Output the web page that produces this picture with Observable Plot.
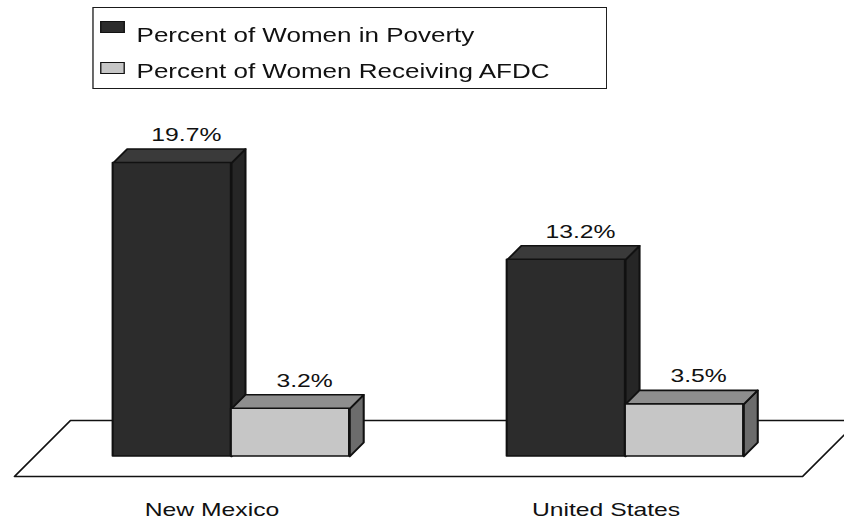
<!DOCTYPE html>
<html>
<head>
<meta charset="utf-8">
<script src="https://cdn.jsdelivr.net/npm/d3@7"></script>
<script src="https://cdn.jsdelivr.net/npm/@observablehq/plot@0.6"></script>
<style>
  html, body { margin: 0; padding: 0; background: #fff; overflow: hidden; }
  /* the whole figure is drawn narrow and widened horizontally */
  #figure { position: relative; width: 649px; transform: scaleX(1.3005); transform-origin: 0 0; }
  #legend { position: relative; height: 100px; font-family: "Liberation Sans", Arial, Helvetica, sans-serif; }
  #legend .box { position: absolute; left: 71px; top: 7px; width: 396px; height: 82px;
                 box-sizing: border-box; border: 1.5px solid #1a1a1a; }
  #legend .swatch { position: absolute; left: 77px; width: 19px; height: 12px;
                    box-sizing: border-box; border: 1.5px solid #111; }
  #legend .label { position: absolute; left: 105px; font-size: 20px; line-height: 20px; color: #111; white-space: nowrap; }
</style>
</head>
<body>
<div id="figure">
  <div id="legend"></div>
  <div id="chart"></div>
</div>
<script>
// Data
const groups = ["New Mexico", "United States"];
const seriesNames = ["Percent of Women in Poverty", "Percent of Women Receiving AFDC"];
const poverty = [19.7, 13.2];
const afdc = [3.2, 3.5];

// Layout
const W = 649, H = 419;
const margin = {top: 58, right: 17, bottom: 63, left: 26};
const xDomain = [-0.5, 1.5];
const yDomain = [0, 20];
const BAR = 0.3;            // bar width in group units
const STRETCH = 1.3005;     // horizontal widening of the figure
const DEPTH = 14;           // bar depth (oblique, on screen px)
const FLOOR_FRONT = -20, FLOOR_BACK = 36;

// Face colours: front, top, side
const palette = [
  {front: "#2c2c2c", top: "#3a3a3a", side: "#262626"},
  {front: "#c6c6c6", top: "#8e8e8e", side: "#6c6c6c"}
];

const pxPerX = (W - margin.left - margin.right) / (xDomain[1] - xDomain[0]);
const pxPerY = (H - margin.top - margin.bottom) / (yDomain[1] - yDomain[0]);
// oblique offset for a given depth, in data units
const offset = d => [d / STRETCH / pxPerX, d / pxPerY];
const [ddx, ddy] = offset(DEPTH);

const bars = groups.flatMap((g, i) => [
  {group: g, s: 0, x1: i - BAR, x2: i, value: poverty[i]},
  {group: g, s: 1, x1: i, x2: i + BAR, value: afdc[i]}
]);

const topFace = b => [[b.x1, b.value], [b.x2, b.value], [b.x2 + ddx, b.value + ddy], [b.x1 + ddx, b.value + ddy], [b.x1, b.value]];
const sideFace = b => [[b.x2, 0], [b.x2 + ddx, ddy], [b.x2 + ddx, b.value + ddy], [b.x2, b.value], [b.x2, 0]];
const poly = (list, face) => list.flatMap((b, k) => face(b).map(([x, y]) => ({x, y, id: k})));

// Floor plane (y = 0) spanning the x domain, from front to back depth
const [fx0, fy0] = offset(FLOOR_FRONT);
const [fx1, fy1] = offset(FLOOR_BACK);
const floor = [
  {x: xDomain[0] + fx0, y: fy0}, {x: xDomain[1] + fx0, y: fy0},
  {x: xDomain[1] + fx1, y: fy1}, {x: xDomain[0] + fx1, y: fy1},
  {x: xDomain[0] + fx0, y: fy0}
];

const stroke = {stroke: "#111", strokeWidth: 1.6, strokeLinejoin: "round"};
const barMarks = [0, 1].flatMap(s => {
  const list = bars.filter(b => b.s === s);
  return [
    Plot.line(poly(list, sideFace), {x: "x", y: "y", z: "id", fill: palette[s].side, ...stroke}),
    Plot.line(poly(list, topFace), {x: "x", y: "y", z: "id", fill: palette[s].top, ...stroke}),
    Plot.rect(list, {x1: "x1", x2: "x2", y1: 0, y2: "value", fill: palette[s].front, ...stroke})
  ];
});

const chart = Plot.plot({
  width: W,
  height: H,
  marginTop: margin.top,
  marginRight: margin.right,
  marginBottom: margin.bottom,
  marginLeft: margin.left,
  x: {domain: xDomain, axis: null},
  y: {domain: yDomain, axis: null},
  style: {fontFamily: "'Liberation Sans', Arial, Helvetica, sans-serif", background: "white", color: "#111"},
  marks: [
    Plot.line(floor, {x: "x", y: "y", fill: "white", stroke: "#111", strokeWidth: 1.3}),
    ...barMarks,
    Plot.text(bars, {
      x: b => (b.x1 + b.x2) / 2 + ddx,
      y: b => b.value + ddy,
      text: b => b.value.toFixed(1) + "%",
      dy: -8, lineAnchor: "bottom", fontSize: 19, fill: "#111"
    }),
    Plot.text(groups, {
      x: (d, i) => i, text: d => d,
      frameAnchor: "bottom", dy: 59, dx: -15, lineAnchor: "bottom", fontSize: 19, fill: "#111"
    })
  ]
});
document.getElementById("chart").appendChild(chart);

// Legend
const legend = document.getElementById("legend");
const box = document.createElement("div");
box.className = "box";
legend.appendChild(box);
const rowTop = [21, 62], labelTop = [25, 60.5];
seriesNames.forEach((name, s) => {
  const sw = document.createElement("div");
  sw.className = "swatch";
  sw.style.top = rowTop[s] + "px";
  sw.style.background = palette[s].front;
  legend.appendChild(sw);
  const lab = document.createElement("div");
  lab.className = "label";
  lab.style.top = labelTop[s] + "px";
  lab.textContent = name;
  legend.appendChild(lab);
});
</script>
</body>
</html>
